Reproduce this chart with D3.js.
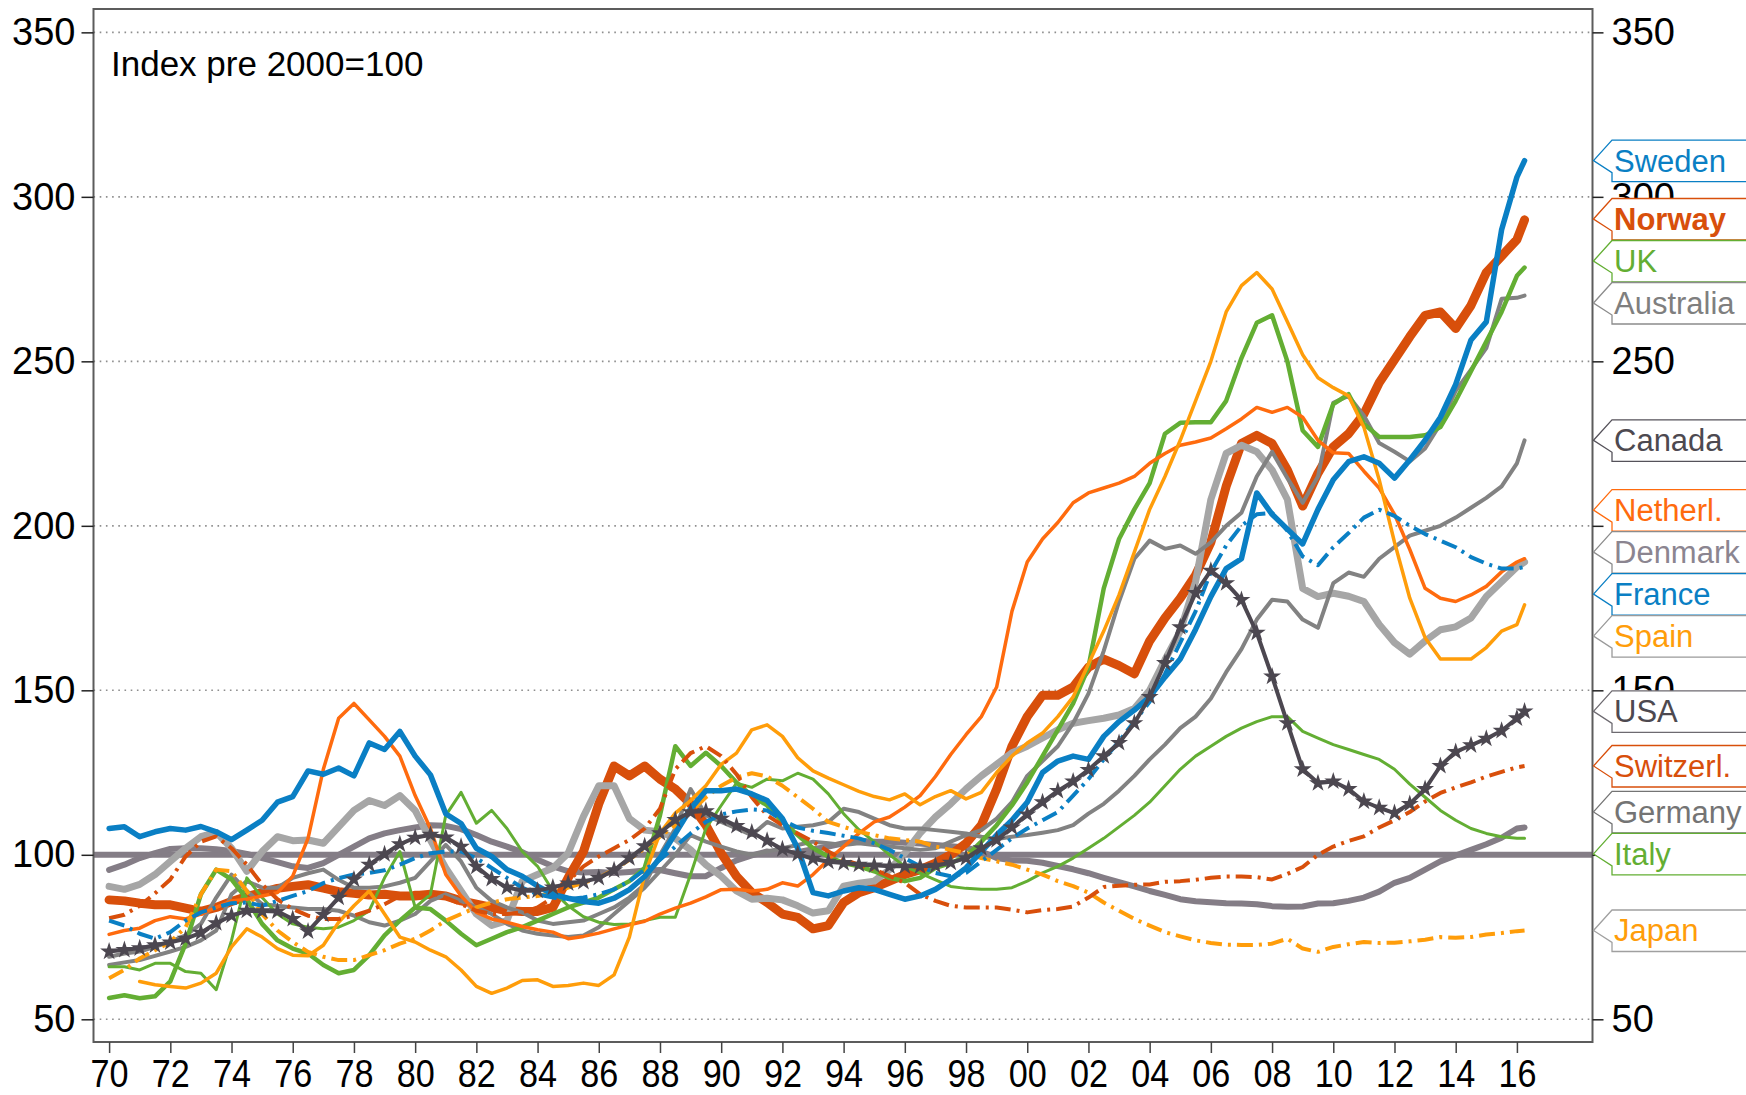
<!DOCTYPE html>
<html><head><meta charset="utf-8">
<script src="https://cdn.jsdelivr.net/npm/d3@7"></script>
<style>
body{margin:0;background:#fff}
svg{display:block}
text{font-family:"Liberation Sans",Arial,Helvetica,sans-serif}
</style>
</head><body>
<svg id="chart" width="1746" height="1095"></svg>
<script>
// ---------- DATA (half-year periods) ----------
const periods = [1970,1970.5,1971,1971.5,1972,1972.5,1973,1973.5,1974,1974.5,1975,1975.5,1976,1976.5,1977,1977.5,1978,1978.5,1979,1979.5,
1980,1980.5,1981,1981.5,1982,1982.5,1983,1983.5,1984,1984.5,1985,1985.5,1986,1986.5,1987,1987.5,1988,1988.5,1989,1989.5,
1990,1990.5,1991,1991.5,1992,1992.5,1993,1993.5,1994,1994.5,1995,1995.5,1996,1996.5,1997,1997.5,1998,1998.5,1999,1999.5,
2000,2000.5,2001,2001.5,2002,2002.5,2003,2003.5,2004,2004.5,2005,2005.5,2006,2006.5,2007,2007.5,2008,2008.5,2009,2009.5,
2010,2010.5,2011,2011.5,2012,2012.5,2013,2013.5,2014,2014.5,2015,2015.5,2016,2016.25];

const sweden = [108,108.5,105.5,107,108,107.5,108.6,107,104.6,107.5,110.5,116,117.7,125.5,124.5,126.4,124,134,132,137.5,
130,124.3,112.5,109.5,102,99.5,95.5,93.5,90.5,88,86.8,85.8,85.3,86.8,89.4,93.4,99,106.5,114,119.5,
119.5,120,118.5,116.5,111,102,88.5,87.5,89,90,89.5,88,86.5,87.5,89.5,92.5,96,101,106,110.5,
116,125,128.5,130,129,136,140.5,144,148,154,159.5,168.5,178.5,187,190,210,203.5,199,194.5,205,
214,219.5,221,219,214.5,220,226,233,243,256.5,262,290,306,311];

const norway = [86.3,86,85.3,84.8,84.8,83.8,82.8,84,85.8,87.3,88.5,89.8,90.4,90.9,89.9,88.8,88.3,87.8,88,87.5,
87.5,88,87.5,86,85,84,83,82.8,82.8,84,93,101,115.5,127,124,127,123,120,115.5,109,
100.5,93.5,88.5,85.5,82,81,77.5,78.5,85.5,88.5,90,92,94,95.5,97.5,100,103.5,109,120,133,
142,148.5,148.5,151,157,159.5,157.5,155,165,172,178,185,195,212,225,227.5,225,217,206,216,
224,228,234,243.5,250.5,257.5,264,265,260,267,277,282,287,293];

const uk = [56.5,57.3,56.4,57,61.5,73,88,95.5,92.5,86.5,79,74,71.5,70,66.5,64,65,69.5,75.5,80,
84,83.5,80,76,72.5,74.5,76.5,78,80,82,84,85.5,87,89.5,92,96,112,133,127,131,
127,122,118,115,110,106,102,99.5,97.5,96.5,95,93,92,93,96,97.5,99.5,104,109,115,
122,130,138,146,157,181,196,205,213,228,231.3,231.5,231.5,238,251,261.7,264,250,229,224,
237,240,231,227,227,227,227.5,230,238,247,256,265,276,278.5];

const australia = [69,70,70.6,72,73.6,75.5,79,87,94,89,85,84.5,84,83.5,83.5,83,81.5,79.5,78.5,80,
82,86,88,86,84,82,79,77,76,75.5,75,75.5,78,82,86,90,95,100,106,104,
102.5,101,100,101,102,103,104,103.5,103,103.5,103,102.5,102,101.5,102,104,106,107.5,111,116,
124,128.5,133,140,149,162,177,190,195.5,193,194,191.5,195,200,204,215,222.5,214.5,207,215,
237.4,239.5,233.5,225.2,222.5,219.6,223.5,231,241,247.5,254,269,269.3,270];

const canada = [66.5,67.3,68,69.3,70.6,72,74,77,88,92,90,90,93,94.4,95.5,92.4,90,90,90.4,91.5,
93,98,103,98,90,86,84,82.5,80,79,79.5,80,82,84,87,91,100,108,120,112,
110,108,106,110,108,108.5,109,110,114,113,111,109,108,108,107.5,107,106.5,105.5,104.8,105.5,
106,106.7,107.5,109,112.5,115.5,119.5,124,129,133.5,138.5,142,147.5,155.5,162.5,171.5,177.5,177,171.5,169,
182.6,185.8,184.5,190,193.5,197,198.5,200,202.5,205.5,208.5,212,219,226];

const netherlands = [75.8,77,77.7,80,81.2,80.5,82,84,86,86.5,87.5,88.5,93.5,105,126,141.5,146,141,136,130,
118,108,94,87.5,82.5,80.5,79.5,78.2,77.2,76.5,74.5,75.2,76.2,77.5,78.7,79.8,82,83.8,85.3,87.2,
89.4,89.5,89,89.5,91.5,90.5,94,98.5,102.5,106.5,110,111.5,114.5,118,123.8,130.5,136.5,142,151,174,
189,196,201,207,210,211.5,213,215,219,222,224.5,225.5,226.7,229.5,232.5,236,234.5,236,233,226,
222.2,222,216.6,211.5,203.5,192.8,181,178,177,179,181.6,186,189,190];

const denmark = [90.4,89.5,91,94,98,102,105.5,106.8,102,95,101,105.5,104.3,104.5,103.5,108.5,113.5,116.5,115,118,
113.5,104.5,96,89,82,78.5,80,92,94,96,100.5,111.7,121,121,111,107.5,107,105,101.5,97,
93.5,89,86.5,86.8,86.3,84.5,82.3,83,90.5,91.4,92,95.5,100.5,106.6,111.5,115.5,120,124,127.5,131,
133,135.5,138,140,140.8,141.5,142.5,144.5,150,159.3,168,183,208,222,224.5,222.5,217,208,181,178.5,
179.5,178.6,177,170,164.5,161,165,168.4,169.3,172,178.5,183,187.5,189];

const france = [80,78.5,76,74.5,76.5,80,82.5,84,85.3,85.5,84.5,86,87.5,89,91.4,92.9,94,94.5,95.3,97,
99,100.5,101,101,99,96,93,90,88,87,86.5,87,88,89.5,92,95.5,98.5,102.5,106.5,110,
112.3,113.2,113.8,113.5,110.5,108.3,107.3,106.6,105.8,105,103.5,101.5,99,96.5,94.5,93.5,94.5,98,101.5,105,
108,110.5,113,118,123,129,134.5,140.5,146.5,155,164.5,174,186,194,200,203.5,204,198.5,190.7,188,
193.5,197.8,202.5,204.9,203,200,197.5,195.5,193.5,190.5,188.5,187,187,187.5];

const spain = [null,null,61.5,60.5,60,59.5,61,64,72,77.5,75,71.5,69.5,69.3,72.5,79.5,84.5,89,82,75,
73.5,71,69,65,60,57.9,59.5,61.8,62,60,60.3,61,60.3,63.5,75,94,106.6,112.7,116.5,121,
127.5,130.9,138,139.5,136,129.5,125.5,123.3,121.3,119.3,117.7,116.7,118.5,115.2,117.7,119.5,117,119,125,130,
134,137,142,148,158,168,179,192,205,215,226,238,250,265,273,277,272,262,252,245,
242,239.5,230,214,195,178,166,159.5,159.5,159.5,163,168,170,176];

const usa = [70.6,71.1,71.6,72.5,73.4,74.5,76.3,79.2,81.5,83,82.9,82.8,80.5,76.7,81.8,87,92.5,97,100.2,103.2,
105.2,106.1,105.3,102.5,96.4,92.7,90.1,89.1,89.1,90.1,91.3,91.8,93,95.3,99,102.6,106.6,110.6,113,113.3,
111,108.8,106.8,104.3,101.7,100.2,98.8,97.9,97.5,97,96.8,96.5,96.5,96.5,96.7,97.6,99,102,104.5,108.3,
112.3,116,119.4,122.3,125.8,130,134,140,148,158.3,169.2,179.6,186.4,182.6,177.5,167.5,154.2,140,126,121.8,
122.3,120,116.2,114.3,112.7,115.5,120,127,131.3,133.3,135.3,137.7,141.5,143.6];

const switzerland = [80.7,81.8,84.5,88.3,92.5,99.5,104,105.6,102,97,91,86.5,83.5,81.5,80.5,80.5,81.5,83,85,87.5,
88.5,88.5,87,85,83,82,82,82.5,84,87,92,96.5,99.5,102,104.5,108,114,126,130.9,133,
130,124.5,117.5,112,109,106.5,104,101,98.5,97,95.5,93.5,91.5,88,86,84.5,84,84,84,83.3,
82.5,83.2,83.5,84.3,87,90.2,90.6,90.9,91,91.8,92,92.4,93,93.4,93.4,93.2,92.5,94.2,96.3,100,
102.5,104.2,105.6,108.3,110.5,113,116.2,118.8,120.5,122,123.8,125.2,126.6,127];

const germany = [95.4,97,99,100.5,101.8,102,102,101.7,101.2,100.3,99,97.8,96.5,96,97.5,100,102.5,105,106.5,107.5,
108.3,109,108.8,107.8,106,104,102.5,100.8,98.5,96.5,95,94.6,94.8,94.5,94.8,95.2,95.4,94.4,93.5,93.5,
96,98.3,99.8,101,100.2,100.8,101.7,102.5,103.5,104.3,104,104,103.7,103.4,103,102.6,102.2,101,99,98.3,
98.2,97.6,96.6,95.6,94.4,93,91.7,90.4,89,87.8,86.5,85.9,85.6,85.3,85.2,85,84.4,84.2,84.3,85.2,
85.3,86,87,88.8,91.5,93,95.5,98,99.8,101.5,103.2,105.2,108,108.3];

const italy = [66,66,65,67,67,64.5,64,59,74,93,87,82,79,78,77.5,78,80,83,93,101,
84,88,112,119,109.6,113.5,108,101,96.5,89,84.5,81.2,79.5,78.8,79,80,81,81,94,108,
115,121.8,120.5,123,122.5,124.8,123,118.5,112.5,107.6,104,100,96.5,94.4,92.4,90.4,89.8,89.5,89.5,90,
92,94.5,96.5,99,102,105,108.5,112,116,121,126,130,133,136,138.5,140.5,142,142,137.5,135.5,
133.5,132,130.5,129,126,121.5,117.5,113.5,110.5,108,106.5,105.5,105,105];

const japan = [62.5,65,68.5,71,73.5,78,88,95.5,95,89,82,77,73.5,70.5,69,68,68,69.5,71,73,
74.5,77,80,82,84,85.5,86.5,87,87.5,88.5,90,91.5,93,95.5,98.5,102,105.5,109,113,117.5,
121,123.5,124.8,123.8,121,117.5,114,110,108.5,107,106,105,104.5,104,102.5,101.5,100.5,99,98,97,
95.5,94,92,90.5,88.5,85.5,83,80.5,78.5,76.5,75.2,74,73.2,72.7,72.6,72.6,73,74.5,71.5,70.5,
72,72.8,73.5,73.2,73.3,73.7,74.2,75,74.8,75,75.8,76.2,76.8,77];

const countries = ["Sweden","Norway","UK","Australia","Canada","Netherl.","Denmark","France","Spain","USA","Switzerl.","Germany","Italy","Japan"];
const countryValues = [sweden,norway,uk,australia,canada,netherlands,denmark,france,spain,usa,switzerland,germany,italy,japan];

const yTickValues = [50,100,150,200,250,300,350];
const yTickValuesRight = [50,150,250,300,350];
const gridValues = [50,150,200,250,300,350];
const xTickYears = [1970,1972,1974,1976,1978,1980,1982,1984,1986,1988,1990,1992,1994,1996,1998,2000,2002,2004,2006,2008,2010,2012,2014,2016];
const xTickLabels = ["70","72","74","76","78","80","82","84","86","88","90","92","94","96","98","00","02","04","06","08","10","12","14","16"];
const baseValue = 100;
const noteText = "Index pre 2000=100";

// ---------- STYLES ----------
const BLUE="#0a7fc4", DKOR="#d84f0b", ORANGE="#ff6b0e", AMBER="#ff9d0a", GREEN="#63ae33",
      GRAY="#828282", LTGRAY="#a6a6a6", PURPGRAY="#847d86", DARK="#4c4750";
const style = {
  "Sweden":   {color:BLUE,   width:5.5, text:BLUE,   box:BLUE},
  "Norway":   {color:DKOR,   width:9,   text:DKOR,   box:DKOR, bold:true},
  "UK":       {color:GREEN,  width:4.5, text:GREEN,  box:GREEN},
  "Australia":{color:GRAY,   width:4,   text:"#7f7f7f", box:"#8c8c8c"},
  "Canada":   {color:GRAY,   width:4,   text:"#4d4950", box:"#55525a"},
  "Netherl.": {color:ORANGE, width:3.5, text:ORANGE, box:ORANGE},
  "Denmark":  {color:LTGRAY, width:7,   text:"#8b8590", box:"#8c8c8c"},
  "France":   {color:BLUE,   width:4,   text:BLUE,   box:BLUE, dash:"16,6,3,6"},
  "Spain":    {color:AMBER,  width:3.5, text:AMBER,  box:"#9a9a9a"},
  "USA":      {color:DARK,   width:4,   text:"#4d4950", box:"#6d6a70", star:true},
  "Switzerl.":{color:DKOR,   width:4,   text:DKOR,   box:DKOR, dash:"16,6,3,6"},
  "Germany":  {color:PURPGRAY,width:6,  text:"#747474", box:"#747474"},
  "Italy":    {color:GREEN,  width:3,   text:GREEN,  box:GREEN},
  "Japan":    {color:AMBER,  width:4,   text:AMBER,  box:"#a0a0a0", dash:"16,6,3,6"}
};
const drawOrder = ["Germany","Norway","Denmark","Canada","Australia","UK","Italy","Netherl.","Spain","Japan","Switzerl.","France","Sweden","USA"];

// ---------- LAYOUT ----------
const svg = d3.select("#chart");
const P = {left:93.5, right:1592.5, top:9, bottom:1042};
const x = d3.scaleLinear().domain([1969.49, 2018.47]).range([P.left, P.right]);
const y = d3.scaleLinear().domain([43.1, 357.1]).range([P.bottom, P.top]);
const FONT = "'Liberation Sans',Arial,sans-serif";

svg.append("rect").attr("width",1746).attr("height",1095).attr("fill","#fff");

svg.append("defs").append("clipPath").attr("id","clip")
  .append("rect").attr("x",P.left).attr("y",P.top).attr("width",P.right-P.left).attr("height",P.bottom-P.top);

// grid
svg.append("g").selectAll("line").data(gridValues).join("line")
  .attr("x1",P.left).attr("x2",P.right)
  .attr("y1",d=>y(d)).attr("y2",d=>y(d))
  .attr("stroke","#8e8e8e").attr("stroke-width",1.6).attr("stroke-dasharray","1.6,4.6");

// base line at 100
svg.append("line").attr("x1",P.left).attr("x2",P.right)
  .attr("y1",y(baseValue)).attr("y2",y(baseValue))
  .attr("stroke",PURPGRAY).attr("stroke-width",6);

// series
const gLines = svg.append("g").attr("clip-path","url(#clip)");
drawOrder.forEach(name=>{
  const vals = countryValues[countries.indexOf(name)];
  const st = style[name];
  const line = d3.line().defined(d=>d!=null).x((d,i)=>x(periods[i])).y(d=>y(d));
  gLines.append("path").attr("d", line(vals))
    .attr("fill","none").attr("stroke",st.color).attr("stroke-width",st.width)
    .attr("stroke-linejoin","round").attr("stroke-linecap", st.dash ? "butt" : "round")
    .attr("stroke-dasharray", st.dash || null);
  if (st.star){
    const sym = d3.symbol(d3.symbolStar, 100);
    gLines.append("g").selectAll("path").data(vals.map((v,i)=>({v,i})).filter(d=>d.v!=null)).join("path")
      .attr("d", sym).attr("transform", d=>`translate(${x(periods[d.i])},${y(d.v)})`)
      .attr("fill",st.color);
  }
});

// frame
svg.append("rect").attr("x",P.left).attr("y",P.top).attr("width",P.right-P.left).attr("height",P.bottom-P.top)
  .attr("fill","none").attr("stroke","#5c5c5c").attr("stroke-width",2);

// axes
const axFont = 38;
const xAxis = svg.append("g").attr("transform",`translate(0,${P.bottom})`)
  .call(d3.axisBottom(x).tickValues(xTickYears).tickFormat((d,i)=>xTickLabels[i]).tickSize(11).tickPadding(7));
xAxis.select(".domain").remove();
xAxis.selectAll("line").attr("stroke","#444").attr("stroke-width",1.5);
xAxis.selectAll("text").attr("font-size",axFont).attr("fill","#000").attr("transform","scale(0.9,1)")
  .attr("font-family",FONT);

const yAxisL = svg.append("g").attr("transform",`translate(${P.left},0)`)
  .call(d3.axisLeft(y).tickValues(yTickValues).tickSize(12).tickPadding(6));
yAxisL.select(".domain").remove();
yAxisL.selectAll("line").attr("stroke","#222").attr("stroke-width",1.5);
yAxisL.selectAll("text").attr("font-size",axFont).attr("fill","#000").attr("font-family",FONT);

const yAxisR = svg.append("g").attr("transform",`translate(${P.right},0)`)
  .call(d3.axisRight(y).tickValues(yTickValues).tickSize(11).tickPadding(8)
        .tickFormat(d=>yTickValuesRight.includes(d) ? d : ""));
yAxisR.select(".domain").remove();
yAxisR.selectAll("line").attr("stroke","#222").attr("stroke-width",1.5);
yAxisR.selectAll("text").attr("font-size",axFont).attr("fill","#000").attr("font-family",FONT);

// note
svg.append("text").attr("x",111).attr("y",75.5).attr("font-size",35).attr("fill","#000").text(noteText);

// ---------- end labels ----------
const items = countries.map((name,k)=>{
  const vals = countryValues[k];
  const last = vals[vals.length-1];
  return {name, target:y(last)};
});
const gap = 42;
items.sort((a,b)=>a.target-b.target);
let clusters = items.map(it=>({members:[it], pos:it.target}));
let changed = true;
while(changed){
  changed = false;
  for(let i=0;i<clusters.length-1;i++){
    const a=clusters[i], b=clusters[i+1];
    const aEnd = a.pos + (a.members.length-1)*gap/2;
    const bStart = b.pos - (b.members.length-1)*gap/2;
    if (bStart - aEnd < gap){
      const members = a.members.concat(b.members);
      clusters.splice(i,2,{members, pos:d3.mean(members,m=>m.target)});
      changed = true; break;
    }
  }
}
clusters.forEach(c=>c.members.forEach((m,k)=>{ m.y = c.pos + (k-(c.members.length-1)/2)*gap; }));

const tipX = P.right+1, boxX = 1612, boxR = 1760;
const gLab = svg.append("g");
items.forEach(it=>{
  const st = style[it.name];
  const yy = it.y;
  gLab.append("path")
    .attr("d",`M${tipX},${yy} L${boxX},${yy-20.5} L${boxR},${yy-20.5} L${boxR},${yy+21} L${boxX},${yy+21} L${boxX},${yy+12} Z`)
    .attr("fill","#fff").attr("stroke",st.box).attr("stroke-width",1.3);
  gLab.append("text").attr("x",boxX+2).attr("y",yy+11)
    .attr("font-size",31).attr("font-weight",st.bold?"bold":"normal")
    .attr("fill",st.text).text(it.name);
});
</script>
</body></html>
